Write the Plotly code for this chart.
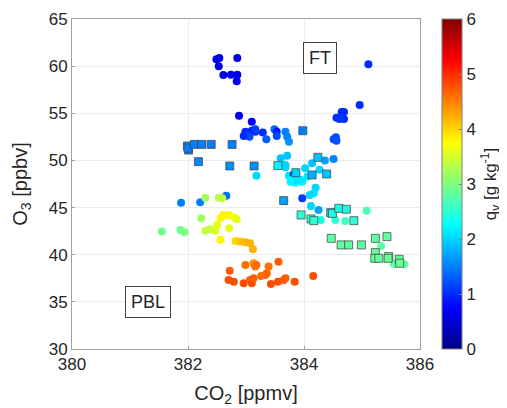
import plotly.graph_objects as go

# Circles (profile points)
circ_co2 = [382.49, 382.54, 382.85, 382.53, 382.61, 382.74, 382.85, 382.84, 382.88, 383.10,
            382.99, 383.05, 383.10, 383.16, 383.02, 383.06, 382.96, 383.29, 383.35, 383.49,
            383.53, 383.53, 383.68, 383.71, 383.74, 383.16,
            384.56, 384.65, 384.69, 384.69, 384.61, 384.96, 385.11, 384.51, 384.55, 384.56,
            383.60, 383.71, 383.68, 383.68, 383.18, 383.74, 383.82, 383.79, 383.91, 383.85,
            384.02, 384.14, 384.36, 384.51, 384.27, 384.20, 383.97, 383.77, 383.88, 383.94, 384.06,
            384.17, 383.97, 384.10, 383.65, 384.12, 384.25, 384.29, 384.54, 384.71, 385.08,
            385.33, 385.55, 385.73,
            381.88, 382.21, 382.66, 382.30, 382.53, 382.59, 382.23, 381.55, 381.87, 381.94,
            382.30, 382.38, 382.47, 382.56, 382.61, 382.70, 382.79, 382.84, 382.50, 382.71, 382.56,
            382.82, 382.90, 382.99, 383.07, 383.12,
            382.99, 383.13, 383.18, 383.16, 383.39, 383.56, 382.72, 383.36, 383.33, 382.70,
            382.79, 382.96, 383.07, 383.10, 383.13, 383.26, 383.43, 383.55, 383.65, 383.68,
            383.84, 384.16]
circ_o3 = [60.73, 60.86, 60.86, 60.00, 59.06, 59.10, 59.10, 58.40, 54.75, 54.10,
           53.05, 52.88, 53.15, 53.05, 52.70, 52.52, 52.60, 52.95, 52.24, 53.30,
           53.05, 52.60, 53.05, 52.50, 51.99, 53.30,
           54.53, 55.14, 55.14, 54.40, 54.40, 55.88, 60.20, 52.24, 52.45, 52.10,
           50.23, 50.50, 49.52, 49.27, 48.38, 48.38, 48.50, 47.93, 48.00, 47.64,
           49.17, 49.70, 50.00, 50.15, 49.00, 47.10, 47.75, 47.70, 47.90, 47.95, 48.30,
           46.52, 46.00, 46.34, 45.71, 45.17, 44.75, 43.69, 43.69, 43.58, 44.67,
           40.93, 38.99, 38.99,
           45.52, 45.56, 46.26, 46.05, 46.05, 45.99, 43.87, 42.45, 42.63, 42.38,
           42.55, 42.70, 42.55, 43.87, 44.22, 44.22, 43.97, 43.76, 43.15, 42.80, 41.60,
           41.46, 41.39, 41.32, 41.21, 40.58,
           38.91, 39.09, 38.91, 38.74, 38.74, 39.26, 38.31, 38.03, 37.85, 37.32,
           37.14, 36.97, 37.32, 36.97, 37.50, 37.75, 36.90, 37.14, 37.32, 37.50,
           37.14, 37.75]
circ_q = [0.6, 0.6, 0.6, 0.6, 0.6, 0.6, 0.6, 0.65, 0.7, 0.75,
          1.0, 1.0, 0.9, 1.0, 1.1, 1.2, 1.0, 1.0, 1.3, 1.4,
          0.9, 1.2, 1.5, 1.5, 1.6, 1.1,
          1.0, 1.0, 1.0, 1.0, 1.05, 1.0, 1.0, 1.2, 1.2, 1.2,
          1.9, 1.9, 2.0, 2.0, 2.0, 2.1, 1.1, 2.2, 2.2, 2.2,
          2.0, 1.9, 1.7, 1.5, 2.0, 2.0, 2.2, 2.2, 2.1, 2.1, 2.1,
          2.1, 1.1, 2.0, 1.9, 2.0, 1.7, 2.4, 2.5, 2.6, 2.7,
          2.8, 2.8, 2.8,
          1.5, 1.5, 1.4, 3.2, 3.3, 3.4, 3.2, 2.9, 2.9, 3.0,
          3.4, 3.4, 3.5, 3.8, 3.8, 3.8, 3.7, 3.6, 3.6, 3.6, 3.8,
          4.0, 4.1, 4.2, 4.2, 4.2,
          4.6, 4.4, 4.6, 4.6, 4.6, 4.7, 4.7, 4.6, 4.7, 4.8,
          4.8, 4.8, 4.7, 4.8, 4.7, 4.6, 4.8, 4.8, 4.7, 4.7,
          4.8, 4.8]

# Squares (level-leg points)
sq_co2 = [381.99, 382.01, 382.00, 382.11, 382.24, 382.40, 382.76, 382.18, 382.72, 383.14,
          383.55, 383.65, 383.98, 383.86, 384.24, 384.14, 384.39,
          383.95, 384.12, 384.17, 384.46, 384.49, 384.60, 384.73, 384.86,
          384.47, 384.64, 384.77, 384.99, 385.23, 385.43, 385.23, 385.22, 385.29, 385.46,
          385.45, 385.64, 385.65]
sq_o3 = [51.53, 51.10, 51.30, 51.70, 51.70, 51.70, 51.70, 49.87, 49.41, 49.41,
         49.45, 45.74, 53.15, 48.70, 50.33, 48.46, 48.56,
         44.22, 43.79, 43.61, 44.46, 44.39, 44.92, 44.82, 43.61,
         41.74, 41.04, 41.04, 41.04, 41.74, 41.92, 40.22, 39.62, 39.62, 39.80,
         39.62, 39.52, 39.10]
sq_q = [1.5, 1.5, 1.5, 1.5, 1.5, 1.5, 1.5, 1.55, 1.6, 1.6,
        2.2, 1.7, 1.5, 2.0, 1.9, 1.8, 1.9,
        2.5, 2.5, 2.5, 2.0, 2.4, 2.4, 2.4, 2.5,
        2.8, 2.8, 2.8, 2.8, 2.8, 2.8, 2.85, 2.85, 2.85, 2.85,
        2.85, 2.85, 2.85]

x_ticks = [380, 382, 384, 386]
y_ticks = [30, 35, 40, 45, 50, 55, 60, 65]
cb_ticks = [0, 1, 2, 3, 4, 5, 6]

jet = [[0.0, "rgb(0,0,132)"], [0.125, "rgb(0,0,255)"], [0.375, "rgb(0,255,255)"],
       [0.625, "rgb(255,255,0)"], [0.875, "rgb(255,0,0)"], [1.0, "rgb(128,0,0)"]]

FONT = "Liberation Sans, Arial, sans-serif"
TXT = "#262626"

fig = go.Figure()
fig.add_trace(go.Scatter(
    x=circ_co2, y=circ_o3, mode="markers",
    marker=dict(symbol="circle", size=8, color=circ_q, colorscale=jet, cmin=0, cmax=6,
                line=dict(width=0), showscale=False),
    showlegend=False))
fig.add_trace(go.Scatter(
    x=sq_co2, y=sq_o3, mode="markers",
    marker=dict(symbol="square", size=8, color=sq_q, colorscale=jet, cmin=0, cmax=6,
                line=dict(width=1, color="rgba(70,70,70,0.75)"),
                showscale=True,
                colorbar=dict(
                    x=1.063, xanchor="left", y=0.5, yanchor="middle",
                    len=1.0, lenmode="fraction", thickness=20, ypad=0, xpad=0,
                    outlinecolor="#808080", outlinewidth=1,
                    tickvals=cb_ticks, ticks="inside", ticklen=3, tickcolor="#808080",
                    tickfont=dict(family=FONT, size=17, color=TXT),
                    title=dict(text="q<sub>v</sub> [g kg<sup>-1</sup>]", side="right",
                               font=dict(family=FONT, size=17, color=TXT)))),
    showlegend=False))

fig.add_annotation(x=384.28, y=60.86, text="FT", showarrow=False,
                   font=dict(family=FONT, size=18, color=TXT),
                   bordercolor="#404040", borderwidth=1, borderpad=5, bgcolor="white")
fig.add_annotation(x=381.31, y=35.0, text="PBL", showarrow=False,
                   font=dict(family=FONT, size=18, color=TXT),
                   bordercolor="#404040", borderwidth=1, borderpad=5, bgcolor="white")

axis_common = dict(showgrid=True, gridcolor="#ebebeb", gridwidth=1,
                   showline=True, linecolor="#a0a0a0", linewidth=1, mirror=True,
                   ticks="inside", ticklen=3, tickcolor="#a0a0a0",
                   zeroline=False, tickfont=dict(family=FONT, size=17, color=TXT))
fig.update_xaxes(range=[380, 386], tickvals=x_ticks,
                 title=dict(text="CO<sub>2</sub> [ppmv]", font=dict(family=FONT, size=20, color=TXT),
                            standoff=12), **axis_common)
fig.update_yaxes(range=[30, 65], tickvals=y_ticks,
                 title=dict(text="O<sub>3</sub> [ppbv]", font=dict(family=FONT, size=20, color=TXT),
                            standoff=15), **axis_common)

fig.update_layout(width=499, height=400, margin=dict(l=64, r=87, t=11, b=59, autoexpand=False),
                  plot_bgcolor="white", paper_bgcolor="white",
                  font=dict(family=FONT, color=TXT))
fig.write_html("out.html")
